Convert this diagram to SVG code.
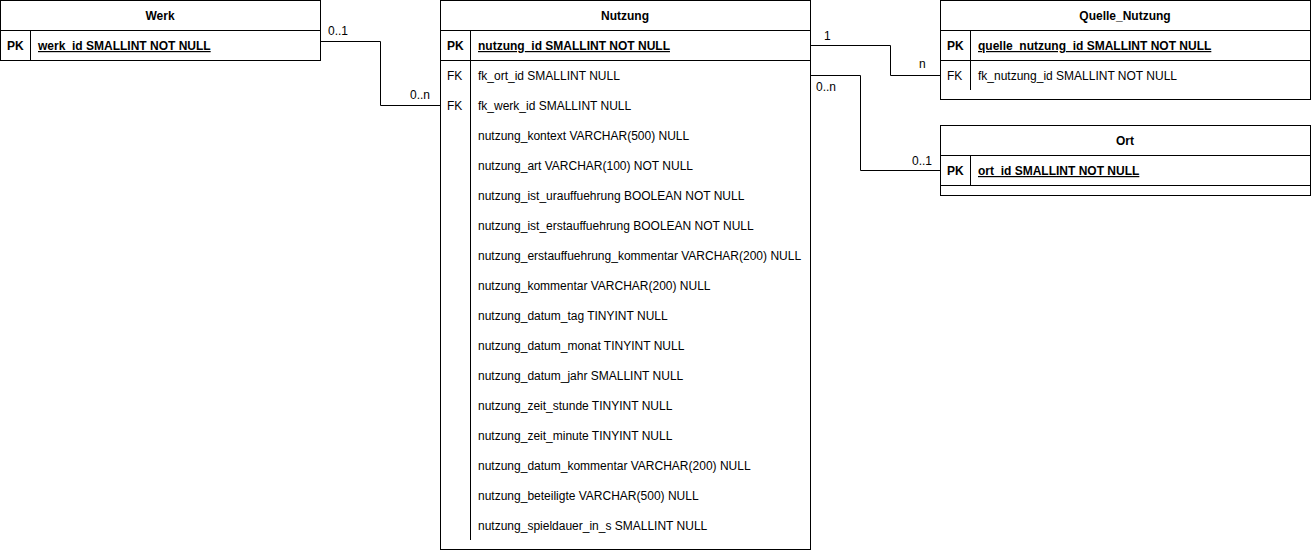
<svg xmlns="http://www.w3.org/2000/svg" width="1311" height="551" viewBox="0 0 1311 551">
<style>
.box{fill:#fff;stroke:#000;stroke-width:1}
.ln{stroke:#000;stroke-width:1;fill:none}
text{font-family:"Liberation Sans",Arial,Helvetica,sans-serif;font-size:12px;fill:#000}
.h{font-weight:bold;text-anchor:middle}
.b{font-weight:bold}
.u{font-weight:bold;text-decoration:underline}
.lbl{fill:#000}
</style>
<rect width="1311" height="551" fill="#fff"/>
<g id="connectors">
<path class="ln" d="M320.5 41.5H380.5V105.5H440.5"/>
<path class="ln" d="M810.5 45.5H890.5V75.5H940.5"/>
<path class="ln" d="M810.5 75.5H860.5V170.5H940.5"/>
<text class="lbl" x="328" y="35">0..1</text>
<text class="lbl" x="410" y="99">0..n</text>
<text class="lbl" x="824" y="40">1</text>
<text class="lbl" x="919" y="68">n</text>
<text class="lbl" x="816" y="91">0..n</text>
<text class="lbl" x="912" y="165">0..1</text>
</g>
<g id="Werk">
<rect class="box" x="0.5" y="0.5" width="320" height="60"/>
<line class="ln" x1="0.5" y1="30.5" x2="320.5" y2="30.5"/>
<line class="ln" x1="30.5" y1="30.5" x2="30.5" y2="60.5"/>
<text class="h" x="160" y="20">Werk</text>
<text class="b" x="7" y="50">PK</text>
<text class="u" x="38" y="50">werk_id SMALLINT NOT NULL</text>
</g>
<g id="Nutzung">
<rect class="box" x="440.5" y="0.5" width="370" height="549"/>
<line class="ln" x1="440.5" y1="30.5" x2="810.5" y2="30.5"/>
<line class="ln" x1="440.5" y1="60.5" x2="810.5" y2="60.5"/>
<line class="ln" x1="470.5" y1="30.5" x2="470.5" y2="540"/>
<text class="h" x="625" y="20">Nutzung</text>
<text class="b" x="447" y="50">PK</text>
<text class="u" x="478" y="50">nutzung_id SMALLINT NOT NULL</text>
<text x="447" y="80">FK</text>
<text x="478" y="80">fk_ort_id SMALLINT NULL</text>
<text x="447" y="110">FK</text>
<text x="478" y="110">fk_werk_id SMALLINT NULL</text>
<text x="478" y="140">nutzung_kontext VARCHAR(500) NULL</text>
<text x="478" y="170">nutzung_art VARCHAR(100) NOT NULL</text>
<text x="478" y="200">nutzung_ist_urauffuehrung BOOLEAN NOT NULL</text>
<text x="478" y="230">nutzung_ist_erstauffuehrung BOOLEAN NOT NULL</text>
<text x="478" y="260">nutzung_erstauffuehrung_kommentar VARCHAR(200) NULL</text>
<text x="478" y="290">nutzung_kommentar VARCHAR(200) NULL</text>
<text x="478" y="320">nutzung_datum_tag TINYINT NULL</text>
<text x="478" y="350">nutzung_datum_monat TINYINT NULL</text>
<text x="478" y="380">nutzung_datum_jahr SMALLINT NULL</text>
<text x="478" y="410">nutzung_zeit_stunde TINYINT NULL</text>
<text x="478" y="440">nutzung_zeit_minute TINYINT NULL</text>
<text x="478" y="470">nutzung_datum_kommentar VARCHAR(200) NULL</text>
<text x="478" y="500">nutzung_beteiligte VARCHAR(500) NULL</text>
<text x="478" y="530">nutzung_spieldauer_in_s SMALLINT NULL</text>
</g>
<g id="Quelle_Nutzung">
<rect class="box" x="940.5" y="0.5" width="370" height="99"/>
<line class="ln" x1="940.5" y1="30.5" x2="1310.5" y2="30.5"/>
<line class="ln" x1="940.5" y1="60.5" x2="1310.5" y2="60.5"/>
<line class="ln" x1="970.5" y1="30.5" x2="970.5" y2="90"/>
<text class="h" x="1125" y="20">Quelle_Nutzung</text>
<text class="b" x="947" y="50">PK</text>
<text class="u" x="978" y="50">quelle_nutzung_id SMALLINT NOT NULL</text>
<text x="947" y="80">FK</text>
<text x="978" y="80">fk_nutzung_id SMALLINT NOT NULL</text>
</g>
<g id="Ort">
<rect class="box" x="940.5" y="125.5" width="370" height="70"/>
<line class="ln" x1="940.5" y1="155.5" x2="1310.5" y2="155.5"/>
<line class="ln" x1="940.5" y1="185.5" x2="1310.5" y2="185.5"/>
<line class="ln" x1="970.5" y1="155.5" x2="970.5" y2="185.5"/>
<text class="h" x="1125" y="145">Ort</text>
<text class="b" x="947" y="175">PK</text>
<text class="u" x="978" y="175">ort_id SMALLINT NOT NULL</text>
</g>
</svg>
